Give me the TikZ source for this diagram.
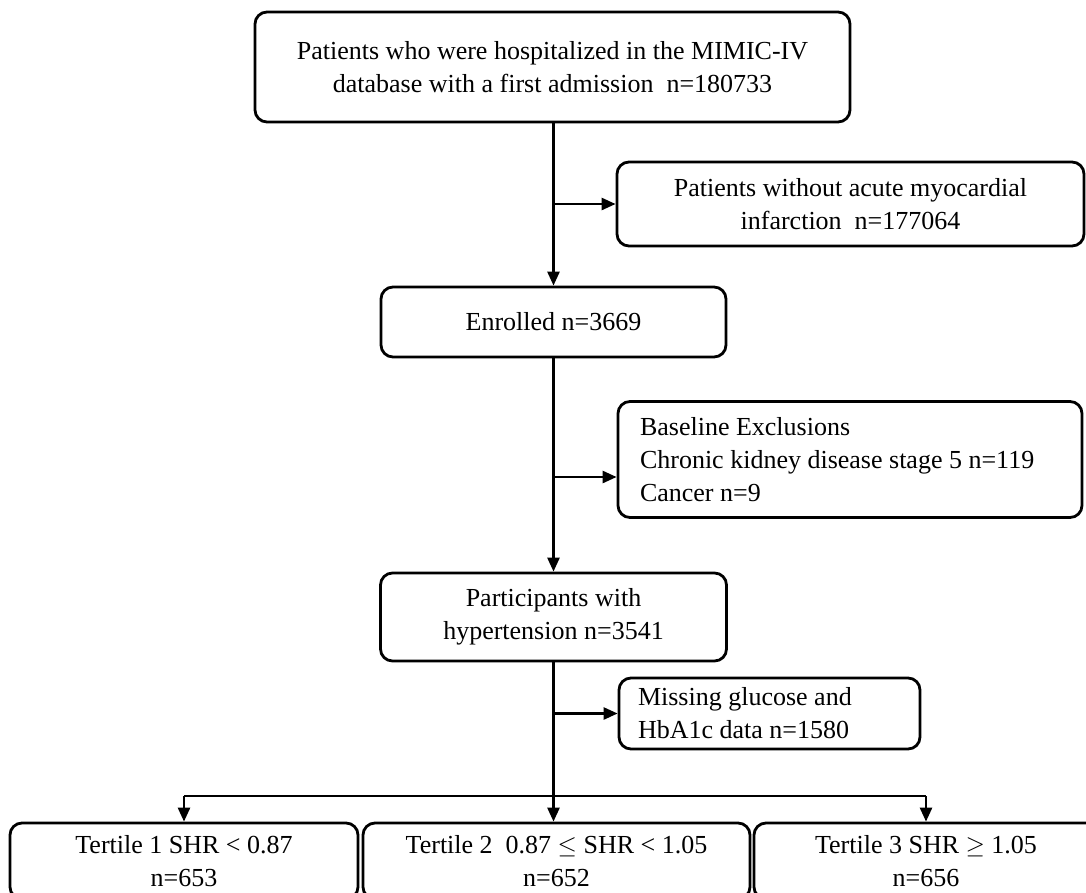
\documentclass[tikz,border=0pt]{standalone}
\usepackage{fontspec}
\setmainfont{Liberation Serif}
\usetikzlibrary{arrows.meta}
\tikzset{
    flowbox/.style={draw, line width=2.8pt, rounded corners=12pt, inner sep=0pt,
        font=\fontsize{26}{33}\selectfont},
    flowarrow/.style={line width=2.6pt, -{Triangle[length=14pt, width=12pt]}},
}

\begin{document}
\begin{tikzpicture}[x=1pt, y=-1pt]
            \useasboundingbox (0, 0) rectangle (1086, 892);
            \node[flowbox, minimum width=595pt, minimum height=110pt, align=center] (admit) at (552.5, 67)
                {Patients who were hospitalized in the MIMIC-IV\\database with a first admission\ \ n=180733};
            \node[flowbox, minimum width=467pt, minimum height=84pt, align=center] (noami) at (850.5, 204)
                {Patients without acute myocardial\\infarction\ \ n=177064};
            \node[flowbox, minimum width=345pt, minimum height=70pt] (enrolled) at (553.5, 322) {Enrolled n=3669};
            \node[flowbox, text width=420pt, inner xsep=22pt, minimum height=116pt, align=flush left] (excl) at (850, 459.5)
                {Baseline Exclusions\\Chronic kidney disease stage 5 n=119\\Cancer n=9};
            \node[flowbox, minimum width=346pt, minimum height=88pt, align=center] (partic) at (553.5, 617)
                {Participants with\\hypertension n=3541};
            \node[flowbox, text width=263pt, inner xsep=19pt, minimum height=71pt, align=flush left] (missing) at (769.5, 713.5)
                {Missing glucose and\\HbA1c data n=1580};
            \node[flowbox, minimum width=348pt, minimum height=76pt, align=center] (tert1) at (184, 861)
                {Tertile 1 SHR \textless{} 0.87\\n=653};
            \node[flowbox, minimum width=387pt, minimum height=76pt, align=center] (tert2) at (556.5, 861)
                {Tertile 2\ \ 0.87 $\leq$ SHR \textless{} 1.05\\n=652};
            \node[flowbox, minimum width=344pt, minimum height=76pt, align=center] (tert3) at (926, 861)
                {Tertile 3 SHR $\geq$ 1.05\\n=656};

            \coordinate (amipt) at (553, 204);
            \coordinate (exclpt) at (553, 477);
            \coordinate (split) at (553, 796);
            \draw[flowarrow] (admit.south -| enrolled.north) -- (enrolled.north);
            \draw[flowarrow] (amipt) -- (noami.west);
            \draw[flowarrow] (enrolled.south) -- (partic.north);
            \draw[flowarrow] (exclpt) -- (exclpt -| excl.west);
            \draw[flowarrow] (partic.south) -- (partic.south |- tert2.north);
            \draw[flowarrow] (partic.south |- missing.west) -- (missing.west);
            \draw[line width=2.6pt] (tert1.north |- split) -- (tert3.north |- split);
            \draw[flowarrow] (tert1.north |- split) -- (tert1.north);
            \draw[flowarrow] (tert3.north |- split) -- (tert3.north);
\end{tikzpicture}
\end{document}
